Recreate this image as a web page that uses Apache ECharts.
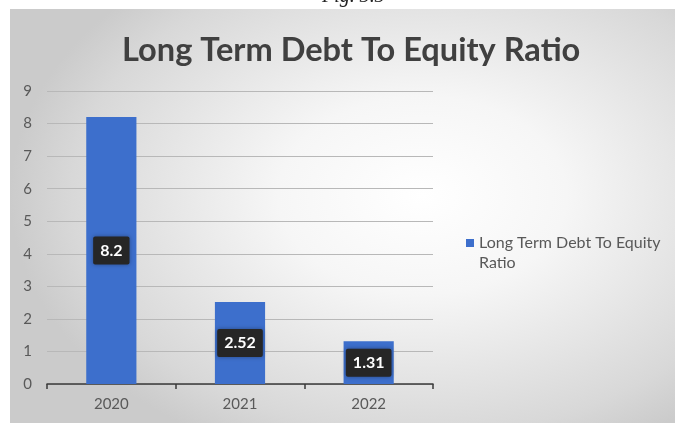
<!DOCTYPE html>
<html>
<head>
<meta charset="utf-8">
<script src="https://cdn.jsdelivr.net/npm/echarts@6/dist/echarts.min.js"></script>
<style>
  html, body { margin: 0; padding: 0; background: #ffffff; }
  #bg { position: absolute; left: 10px; top: 9px; width: 665px; height: 414px;
        background: radial-gradient(ellipse 62% 68% at 62% 45%, #ffffff 0%, #f6f6f6 35%, #d8d8d8 85%, #cbcbcb 100%); }
  #chart { position: absolute; left: 0; top: 0; width: 675px; height: 423px; }
</style>
</head>
<body>
<div id="bg"></div>
<div id="chart"></div>
<script>
const categories = ['2020', '2021', '2022'];
const ratioValues = [8.2, 2.52, 1.31];
const seriesName = 'Long Term Debt To Equity Ratio';
const titleText = 'Long Term Debt To Equity Ratio';
const yMin = 0, yMax = 9, yStep = 1;

const chart = echarts.init(document.getElementById('chart'), null, { renderer: 'canvas' });
chart.setOption({
  backgroundColor: 'transparent',
  animation: false,
  title: {
    text: titleText,
    left: 117,
    top: 29,
    textStyle: { fontFamily: 'Lato', fontWeight: 'bold', fontSize: 32.6, color: '#404040' }
  },
  graphic: [{
    type: 'text',
    left: 322,
    top: -13,
    style: { text: 'Fig. 3.3', font: 'italic 20px "Liberation Serif"', fill: '#222' }
  }],
  legend: {
    orient: 'vertical',
    left: 461,
    top: 228,
    icon: 'path://M0,0L8,0L8,8L0,8Z M0,28L0.01,28L0.01,28.01Z',
    itemWidth: 8,
    itemHeight: 28,
    itemGap: 6,
    textStyle: { fontFamily: 'Lato', fontSize: 16, color: '#595959', width: 195, overflow: 'break', lineHeight: 20 },
    data: [seriesName]
  },
  grid: { left: 47, right: 242, top: 91, bottom: 39, containLabel: false },
  xAxis: {
    type: 'category',
    data: categories,
    axisLine: { lineStyle: { color: '#3a3a3a', width: 1.5 } },
    axisTick: { show: true, length: 5, lineStyle: { color: '#3a3a3a', width: 1.5 } },
    axisLabel: { fontFamily: 'Lato', fontSize: 15, color: '#595959', margin: 13 }
  },
  yAxis: {
    type: 'value',
    min: yMin, max: yMax, interval: yStep,
    axisLine: { show: false },
    axisTick: { show: false },
    axisLabel: { fontFamily: 'Lato', fontSize: 15, color: '#595959', margin: 15 },
    splitLine: { lineStyle: { color: '#b8b8b8', width: 1 } }
  },
  series: [{
    name: seriesName,
    type: 'bar',
    data: ratioValues,
    barWidth: '39%',
    itemStyle: { color: '#3d6fcc' },
    label: {
      show: true,
      position: 'inside',
      color: '#ffffff',
      fontFamily: 'Lato',
      fontWeight: 'bold',
      fontSize: 16,
      backgroundColor: '#262626',
      padding: [6, 7],
      borderRadius: 2,
      shadowColor: 'rgba(0,0,0,0.35)',
      shadowBlur: 4
    }
  }]
});
</script>
</body>
</html>
